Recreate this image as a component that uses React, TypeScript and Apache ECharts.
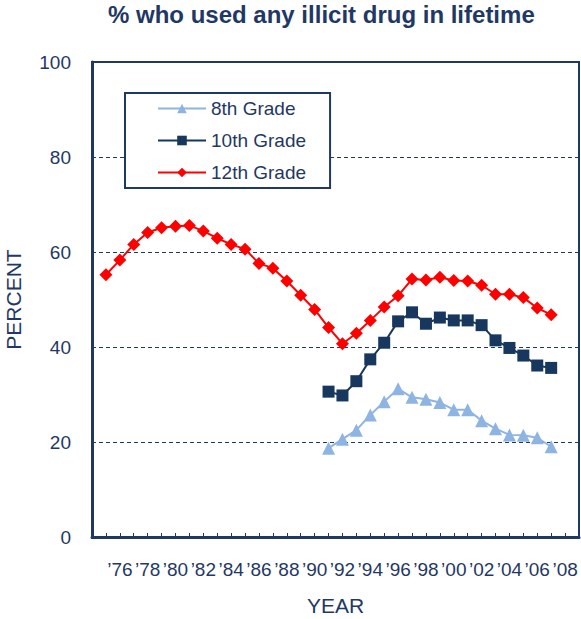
import React, { useEffect, useRef } from "react";
import * as echarts from "echarts";

const years = Array.from({ length: 33 }, (_, i) => 1975 + i);
const grade12 = [55.2, 58.3, 61.6, 64.1, 65.1, 65.4, 65.6, 64.4, 62.9, 61.6, 60.6, 57.6, 56.6, 53.9, 50.9, 47.9, 44.1, 40.7, 42.9, 45.6, 48.4, 50.8, 54.3, 54.1, 54.7, 54.0, 53.9, 53.0, 51.1, 51.1, 50.4, 48.2, 46.8];
const years8and10 = Array.from({ length: 17 }, (_, i) => 1991 + i);
const grade10 = [30.6, 29.8, 32.8, 37.4, 40.9, 45.4, 47.3, 44.9, 46.2, 45.6, 45.6, 44.6, 41.4, 39.8, 38.2, 36.1, 35.6];
const grade8 = [18.7, 20.6, 22.5, 25.7, 28.5, 31.2, 29.4, 29.0, 28.3, 26.8, 26.8, 24.5, 22.8, 21.5, 21.4, 20.9, 19.0];

const NAVY = "#1F3864";
const FONT = "Liberation Sans, Arial, sans-serif";

export default function App() {
  const ref = useRef<HTMLDivElement>(null);
  useEffect(() => {
    if (!ref.current) return;
    const chart = echarts.init(ref.current, null, { renderer: "svg" });
    chart.setOption({
      animation: false,
      backgroundColor: "#fff",
      title: {
        text: "% who used any illicit drug in lifetime",
        left: 108,
        top: 2,
        padding: 0,
        textStyle: { fontFamily: FONT, fontSize: 24, fontWeight: "bold", color: NAVY },
      },
      legend: {
        orient: "vertical",
        left: 125,
        top: 93,
        backgroundColor: "#fff",
        borderColor: NAVY,
        borderWidth: 2,
        borderRadius: 0,
        padding: [6, 24, 6, 32],
        itemWidth: 48,
        itemHeight: 12,
        itemGap: 13,
        textStyle: { fontFamily: FONT, fontSize: 19, color: NAVY },
        data: ["8th Grade", "10th Grade", "12th Grade"],
      },
      grid: {
        left: 92,
        right: 2,
        top: 62,
        bottom: 82,
        show: true,
        borderColor: NAVY,
        borderWidth: 2,
        backgroundColor: "transparent",
        containLabel: false,
        outerBoundsMode: "none",
      },
      xAxis: {
        type: "value",
        min: 1974,
        max: 2009,
        interval: 1,
        name: "YEAR",
        nameLocation: "middle",
        nameGap: 58,
        nameTextStyle: { fontFamily: FONT, fontSize: 21, color: NAVY },
        axisLine: { show: true, lineStyle: { color: NAVY, width: 3 } },
        axisTick: { show: true, inside: true, length: 4, lineStyle: { color: NAVY, width: 1 } },
        splitLine: { show: false },
        axisLabel: {
          margin: 23,
          fontFamily: FONT,
          fontSize: 19,
          color: NAVY,
          formatter: (v: number) =>
            v % 2 === 0 && v >= 1976 && v <= 2008 ? "\u2019" + String(v).slice(2) : "",
        },
      },
      yAxis: {
        type: "value",
        min: 0,
        max: 100,
        interval: 20,
        name: "PERCENT",
        nameLocation: "middle",
        nameGap: 68,
        nameRotate: 90,
        nameTextStyle: { fontFamily: FONT, fontSize: 21, color: NAVY },
        axisLine: { show: true, lineStyle: { color: NAVY, width: 3 } },
        axisTick: { show: false },
        axisLabel: { margin: 21, fontFamily: FONT, fontSize: 19, color: NAVY },
        splitLine: { show: true, lineStyle: { color: NAVY, type: [4, 3], width: 1 } },
      },
      series: [
        {
          name: "8th Grade",
          type: "line",
          data: years8and10.map((y, i) => [y, grade8[i]]),
          symbol: "triangle",
          symbolSize: 13,
          lineStyle: { color: "#8EB4E3", width: 2 },
          itemStyle: { color: "#8EB4E3" },
        },
        {
          name: "10th Grade",
          type: "line",
          data: years8and10.map((y, i) => [y, grade10[i]]),
          symbol: "rect",
          symbolSize: 12,
          lineStyle: { color: "#17375E", width: 2 },
          itemStyle: { color: "#17375E" },
        },
        {
          name: "12th Grade",
          type: "line",
          data: years.map((y, i) => [y, grade12[i]]),
          symbol: "diamond",
          symbolSize: 13,
          lineStyle: { color: "#FF0000", width: 2 },
          itemStyle: { color: "#FF0000" },
        },
      ],
    });
    return () => chart.dispose();
  }, []);
  return <div ref={ref} style={{ width: 581, height: 619, position: "absolute", left: 0, top: 0 }} />;
}
